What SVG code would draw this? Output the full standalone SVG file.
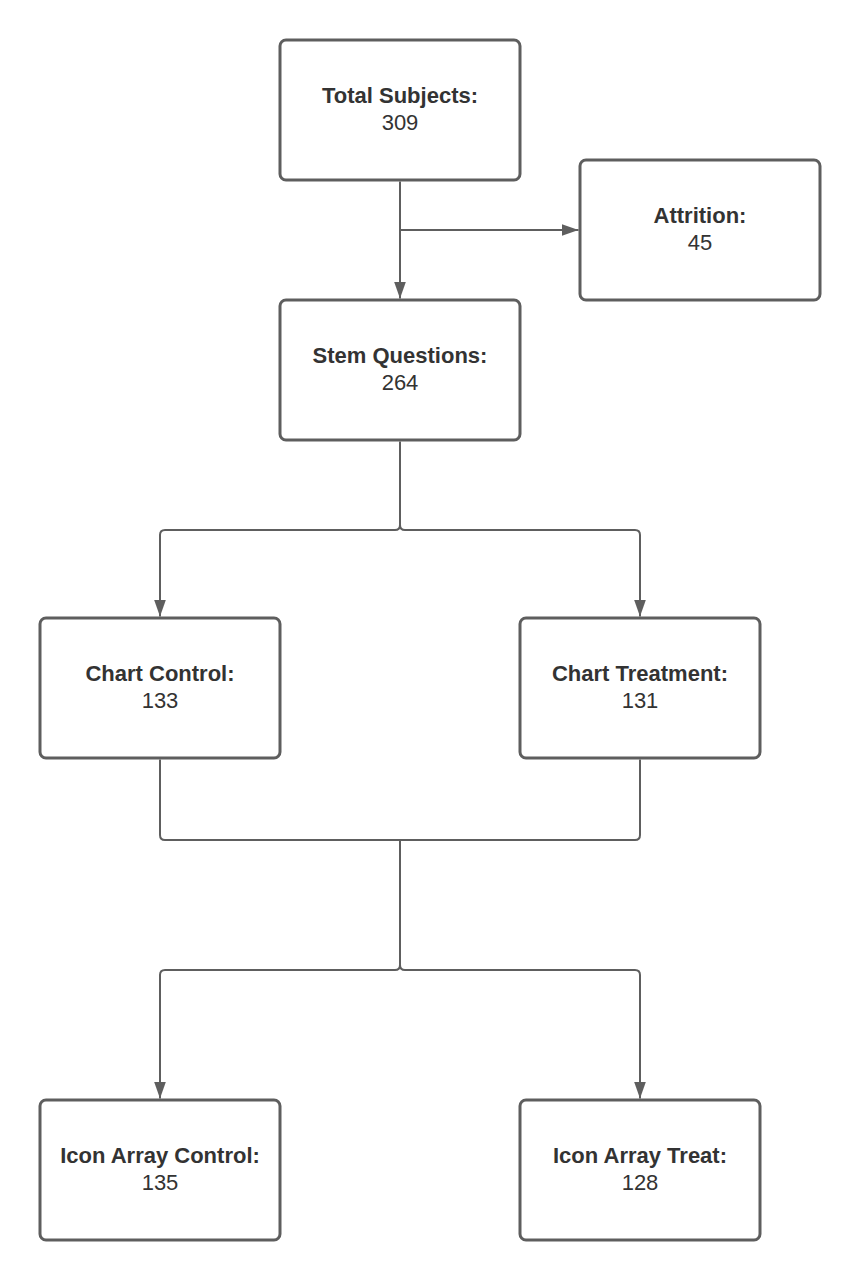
<svg xmlns="http://www.w3.org/2000/svg" width="860" height="1280" viewBox="0 0 860 1280">
<style>
.box{fill:#fff;stroke:#5e5e5e;stroke-width:3}
.t{font-family:"Liberation Sans",Arial,sans-serif;font-size:22px;fill:#333;text-anchor:middle}
.b{font-weight:bold}
.c{fill:none;stroke:#5e5e5e;stroke-width:2}
</style>
<defs>
<marker id="ah" markerWidth="17" markerHeight="12" refX="17" refY="6" orient="auto" markerUnits="userSpaceOnUse">
<path d="M0,0 L17,6 L0,12 Z" fill="#5e5e5e"/>
</marker>
</defs>
<rect width="860" height="1280" fill="#fff"/>
<g id="connectors">
<path class="c" d="M400 181.5 V298.5" marker-end="url(#ah)"/>
<path class="c" d="M400 230 H578.5" marker-end="url(#ah)"/>
<path class="c" d="M400 441.5 V525 Q400 530 395 530 H165 Q160 530 160 535 V616.5" marker-end="url(#ah)"/>
<path class="c" d="M400 525 Q400 530 405 530 H635 Q640 530 640 535 V616.5" marker-end="url(#ah)"/>
<path class="c" d="M160 759.5 V835 Q160 840 165 840 H635 Q640 840 640 835 V759.5"/>
<path class="c" d="M400 840 V965 Q400 970 395 970 H165 Q160 970 160 975 V1098.5" marker-end="url(#ah)"/>
<path class="c" d="M400 965 Q400 970 405 970 H635 Q640 970 640 975 V1098.5" marker-end="url(#ah)"/>
</g>
<g id="total">
<rect class="box" x="280" y="40" width="240" height="140" rx="6"/>
<text class="t b" x="400" y="103">Total Subjects:</text>
<text class="t" x="400" y="130">309</text>
</g>
<g id="attrition">
<rect class="box" x="580" y="160" width="240" height="140" rx="6"/>
<text class="t b" x="700" y="223">Attrition:</text>
<text class="t" x="700" y="250">45</text>
</g>
<g id="stem">
<rect class="box" x="280" y="300" width="240" height="140" rx="6"/>
<text class="t b" x="400" y="363">Stem Questions:</text>
<text class="t" x="400" y="390">264</text>
</g>
<g id="chart-control">
<rect class="box" x="40" y="618" width="240" height="140" rx="6"/>
<text class="t b" x="160" y="681">Chart Control:</text>
<text class="t" x="160" y="708">133</text>
</g>
<g id="chart-treatment">
<rect class="box" x="520" y="618" width="240" height="140" rx="6"/>
<text class="t b" x="640" y="681">Chart Treatment:</text>
<text class="t" x="640" y="708">131</text>
</g>
<g id="icon-control">
<rect class="box" x="40" y="1100" width="240" height="140" rx="6"/>
<text class="t b" x="160" y="1163">Icon Array Control:</text>
<text class="t" x="160" y="1190">135</text>
</g>
<g id="icon-treat">
<rect class="box" x="520" y="1100" width="240" height="140" rx="6"/>
<text class="t b" x="640" y="1163">Icon Array Treat:</text>
<text class="t" x="640" y="1190">128</text>
</g>
</svg>
